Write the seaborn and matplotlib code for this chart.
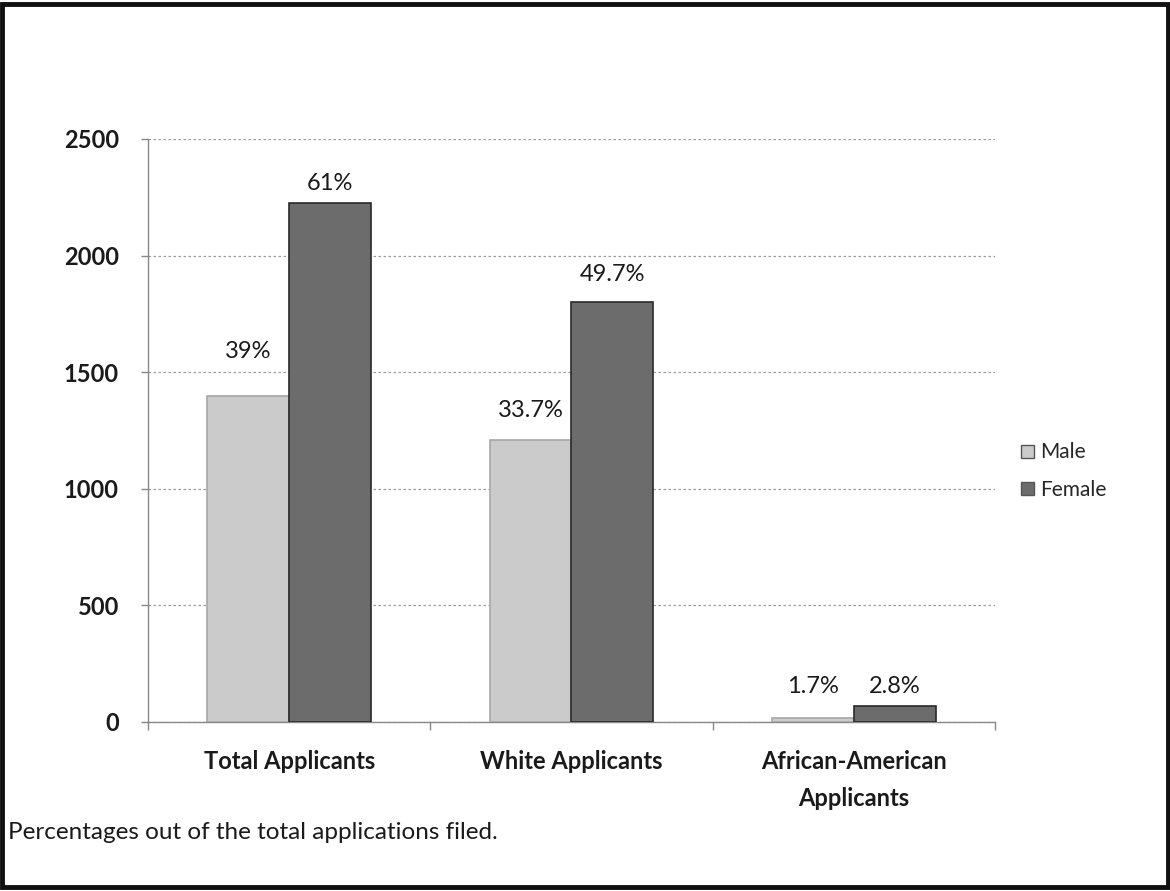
import matplotlib
matplotlib.use("Agg")
import matplotlib.pyplot as plt
import seaborn as sns
import pandas as pd
from matplotlib.patches import Rectangle, Patch

# Applicant counts by group and sex
categories = ["Total Applicants", "White Applicants", "African-American\nApplicants"]
male_counts = [1400, 1210, 15]
female_counts = [2225, 1800, 70]
male_labels = ["39%", "33.7%", "1.7%"]
female_labels = ["61%", "49.7%", "2.8%"]
series_names = ["Male", "Female"]
y_ticks = [0, 500, 1000, 1500, 2000, 2500]

df = pd.DataFrame({
    "group": categories * 2,
    "sex": [series_names[0]] * 3 + [series_names[1]] * 3,
    "count": male_counts + female_counts,
})

sns.set_theme(style="white")
plt.rcParams["font.family"] = ["Lato", "DejaVu Sans"]

fig = plt.figure(figsize=(11.7, 8.91), dpi=100)
ax = fig.add_axes([0.1265, 0.1897, 0.7239, 0.6543])

colors = {"Male": "#cbcbcb", "Female": "#6c6c6c"}
sns.barplot(data=df, x="group", y="count", hue="sex", order=categories,
            hue_order=series_names, palette=colors, width=0.58, gap=0,
            saturation=1, ax=ax, legend=False, zorder=3)

# darker outlines on the bars
for bar_container, edge in zip(ax.containers, ["#a8a8a8", "#2a2a2a"]):
    for b in bar_container:
        b.set_edgecolor(edge)
        b.set_linewidth(1.2)

# percentage labels above each bar, offsets in points
male_offsets = [32, 21, 23]
female_offsets = [14, 20, 14]
for container, labels, offsets in [(ax.containers[0], male_labels, male_offsets),
                                   (ax.containers[1], female_labels, female_offsets)]:
    for b, lab, off in zip(container, labels, offsets):
        ax.annotate(lab, xy=(b.get_x() + b.get_width() / 2, b.get_height()),
                    xytext=(0, off), textcoords="offset points",
                    ha="center", va="center", fontsize=17, color="#1a1a1a")

ax.set_ylim(0, 2500)
ax.set_xlim(-0.5, 2.5)
ax.set_yticks(y_ticks)
ax.set_yticklabels([str(v) for v in y_ticks], fontsize=17, fontweight="bold",
                   color="#1a1a1a")
ax.tick_params(axis="y", which="major", pad=16, length=5, width=1,
               color="#888888", left=True, direction="out")
ax.tick_params(axis="x", which="major", length=0, pad=20)
ax.set_xticks(range(3))
ax.set_xticklabels(categories, fontsize=17, fontweight="bold", color="#1a1a1a",
                   linespacing=1.75)
ax.set_xticks([-0.5, 0.5, 1.5, 2.5], minor=True)
ax.tick_params(axis="x", which="minor", length=6, width=1, color="#888888",
               direction="out", bottom=True)
ax.set_xlabel("")
ax.set_ylabel("")

ax.yaxis.grid(True, linestyle=(0, (2, 2)), color="#9a9a9a", linewidth=0.9,
              zorder=0)
ax.set_axisbelow(True)
for side in ["top", "right"]:
    ax.spines[side].set_visible(False)
for side in ["left", "bottom"]:
    ax.spines[side].set_color("#888888")
    ax.spines[side].set_linewidth(1.0)

handles = [Patch(facecolor=colors[s], edgecolor="#555555", label=s)
           for s in series_names]
fig.legend(handles=handles, loc="center left", bbox_to_anchor=(0.864, 0.471),
           frameon=False, fontsize=15, handlelength=0.6, handleheight=0.6,
           handletextpad=0.3, labelspacing=0.85, borderpad=0)

fig.text(0.007, 0.066, "Percentages out of the total applications filed.",
         fontsize=17.5, color="#1a1a1a", va="center", ha="left")

# black frame around the whole figure
fig.patches.append(Rectangle((0.002, 0.004), 0.996, 0.992,
                             transform=fig.transFigure, fill=False,
                             edgecolor="#111111", linewidth=3.5))

fig.savefig("out.png", dpi=100)
